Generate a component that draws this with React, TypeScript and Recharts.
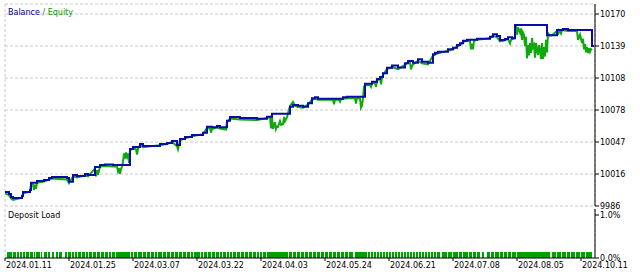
import React from "react";
import { Area, AreaChart, CartesianGrid, Line, LineChart, XAxis, YAxis } from "recharts";

// x axis is the tester's sequence index (0..590), not calendar time
const balancePts: [number, number][] = [
  [0, 9999.0], [4, 9997.1], [6, 9994.2], [8, 9993.3], [17, 9995.2], [18, 9999.0], [25, 10000.9],
  [26, 10008.0], [32, 10009.6], [39, 10010.5], [44, 10012.5], [47, 10013.4], [62, 10012.5],
  [64, 10008.9], [68, 10015.3], [72, 10014.4], [80, 10016.3], [83, 10015.3], [90, 10023.0],
  [95, 10024.9], [100, 10025.4], [108, 10024.9], [125, 10040.3], [128, 10042.2], [135, 10045.1],
  [138, 10043.2], [155, 10045.1], [162, 10046.0], [167, 10047.9], [172, 10044.1], [175, 10049.9],
  [180, 10051.8], [187, 10053.7], [198, 10055.9], [202, 10061.7], [207, 10061.1], [212, 10062.3],
  [215, 10061.1], [222, 10067.4], [225, 10071.0], [235, 10070.0], [252, 10069.4], [262, 10071.2],
  [267, 10074.2], [285, 10080.9], [288, 10082.5], [293, 10081.8], [298, 10080.9], [303, 10084.1],
  [307, 10088.9], [310, 10089.9], [313, 10088.5], [338, 10089.9], [342, 10090.5], [360, 10102.9],
  [367, 10104.9], [372, 10107.4], [375, 10109.4], [378, 10112.9], [382, 10118.3], [387, 10120.5],
  [393, 10118.5], [400, 10122.5], [403, 10124.7], [408, 10123.1], [413, 10126.3], [417, 10124.0],
  [423, 10123.1], [428, 10131.1], [430, 10132.7], [433, 10133.6], [443, 10135.9], [448, 10137.5],
  [452, 10140.1], [455, 10141.7], [458, 10144.2], [462, 10145.1], [472, 10146.1], [485, 10148.0],
  [488, 10150.3], [492, 10148.7], [495, 10144.9], [500, 10145.8], [503, 10147.5], [507, 10146.5],
  [510, 10159.3], [542, 10149.4], [552, 10154.5], [558, 10155.4], [563, 10154.5], [587, 10139.1],
  [589, 10139.1],
];

const equityPts: [number, number][] = [
  [0, 9998.0], [4, 9996.0], [6, 9993.0], [8, 9991.5], [17, 9993.5], [18, 9997.5], [25, 9999.5],
  [26, 10006.5], [28, 10006.5], [29, 10001.0], [30, 10006.0], [31, 10002.0], [32, 10008.0],
  [39, 10009.0], [44, 10011.0], [47, 10012.0], [62, 10011.0], [64, 10007.5], [68, 10014.0],
  [72, 10013.0], [80, 10015.0], [83, 10014.0], [90, 10021.5], [91, 10014.0], [92, 10020.0],
  [93, 10015.5], [95, 10023.5], [100, 10024.0], [108, 10023.5], [112, 10023.5], [113, 10019.0],
  [114, 10022.0], [115, 10016.5], [116, 10021.0], [117, 10023.5], [118, 10028.0], [119, 10036.0],
  [120, 10031.0], [121, 10037.0], [122, 10033.0], [123, 10036.0], [124, 10027.0], [125, 10039.0],
  [128, 10041.0], [131, 10040.0], [132, 10035.0], [133, 10040.5], [135, 10044.0], [138, 10042.0],
  [155, 10044.0], [162, 10045.0], [167, 10047.0], [172, 10043.0], [173, 10040.0], [175, 10048.5],
  [180, 10050.5], [187, 10052.5], [198, 10054.5], [202, 10060.5], [205, 10060.0], [206, 10056.0],
  [207, 10059.5], [212, 10061.0], [215, 10060.0], [221, 10059.0], [222, 10066.0], [225, 10069.5],
  [235, 10068.5], [252, 10068.0], [262, 10070.0], [265, 10071.0], [266, 10060.0], [267, 10072.0],
  [268, 10059.5], [270, 10066.0], [271, 10059.5], [272, 10062.0], [273, 10061.7], [275, 10067.0],
  [276, 10063.5], [278, 10064.0], [279, 10071.0], [280, 10067.0], [282, 10070.5], [283, 10074.5],
  [284, 10078.0], [285, 10081.5], [286, 10083.0], [288, 10085.5], [290, 10081.5], [293, 10080.5],
  [298, 10080.0], [303, 10083.0], [307, 10087.5], [310, 10088.5], [313, 10087.5], [328, 10087.5],
  [329, 10083.2], [330, 10087.5], [334, 10087.5], [335, 10085.7], [336, 10088.0], [338, 10088.5],
  [342, 10089.0], [350, 10089.0], [351, 10084.0], [352, 10089.0], [355, 10089.0], [356, 10080.0],
  [357, 10082.0], [358, 10089.0], [359, 10100.0], [360, 10101.5], [365, 10101.5], [366, 10100.0],
  [367, 10103.5], [370, 10103.5], [371, 10100.0], [372, 10106.0], [375, 10108.0], [376, 10102.3],
  [377, 10108.0], [378, 10111.5], [382, 10117.0], [387, 10119.0], [393, 10117.0], [400, 10121.0],
  [403, 10123.5], [405, 10123.5], [406, 10116.7], [407, 10120.0], [408, 10121.5], [413, 10125.0],
  [417, 10122.5], [423, 10121.5], [428, 10130.0], [430, 10131.0], [433, 10132.0], [443, 10134.5],
  [448, 10136.0], [452, 10138.5], [455, 10140.0], [458, 10143.0], [462, 10144.0], [465, 10144.0],
  [466, 10135.9], [467, 10141.0], [468, 10136.0], [469, 10144.0], [472, 10145.0], [485, 10146.5],
  [488, 10149.0], [492, 10147.5], [495, 10143.5], [500, 10144.5], [503, 10146.0], [505, 10141.7],
  [506, 10145.0], [507, 10145.5], [508, 10146.0], [510, 10147.0], [511, 10159.0], [512, 10150.0],
  [513, 10157.0], [515, 10152.0], [516, 10156.0], [517, 10145.0], [518, 10152.0], [519, 10150.0],
  [520, 10139.0], [521, 10148.0], [522, 10127.3], [523, 10140.0], [524, 10130.0], [525, 10142.0],
  [526, 10132.4], [527, 10146.8], [528, 10138.0], [529, 10140.0], [530, 10128.0], [531, 10142.0],
  [532, 10135.0], [533, 10130.5], [534, 10140.0], [535, 10135.0], [536, 10126.6], [537, 10142.0],
  [538, 10126.6], [539, 10138.0], [540, 10129.0], [541, 10145.0], [542, 10133.0], [543, 10151.6],
  [545, 10149.0], [547, 10149.5], [552, 10153.5], [553, 10150.0], [554, 10154.0], [556, 10151.0],
  [557, 10154.5], [563, 10153.5], [572, 10153.5], [573, 10145.0], [575, 10150.0], [577, 10142.0],
  [578, 10146.0], [579, 10136.0], [580, 10141.0], [581, 10133.0], [582, 10138.0], [583, 10132.4],
  [584, 10137.0], [585, 10133.5], [586, 10136.0], [587, 10135.0],
];

// deposit load: stretches where positions were open, all at the same small level
const loadLevel = 0.14;
const loadRuns: [number, number][] = [
  [2, 7], [8, 11], [12, 14], [15, 17], [18, 20], [21, 24], [25, 28], [29, 30], [31, 35], [36, 37],
  [39, 42], [43, 45], [47, 49], [51, 53], [54, 57], [60, 62], [63, 66], [67, 69], [70, 72], [73, 76],
  [77, 80], [81, 83], [84, 87], [88, 91], [92, 95], [96, 99], [100, 103], [104, 106], [107, 110],
  [111, 125], [126, 128], [129, 132], [133, 137], [138, 141], [142, 145], [146, 149], [150, 152],
  [153, 157], [158, 161], [162, 165], [166, 169], [170, 173], [174, 177], [178, 181], [182, 185],
  [186, 188], [189, 195], [196, 198], [199, 202], [203, 206], [207, 210], [211, 214], [215, 217],
  [218, 221], [222, 224], [225, 227], [228, 231], [232, 235], [236, 239], [240, 243], [244, 247],
  [248, 251], [252, 254], [255, 257], [258, 261], [262, 283], [284, 287], [288, 291], [292, 295],
  [296, 299], [300, 303], [304, 307], [308, 311], [312, 315], [316, 319], [320, 323], [324, 327],
  [328, 331], [332, 335], [336, 339], [340, 343], [344, 348], [350, 362], [363, 365], [366, 368],
  [369, 371], [372, 374], [375, 377], [378, 380], [381, 383], [384, 386], [387, 389], [390, 392],
  [393, 395], [396, 398], [399, 401], [402, 404], [405, 407], [408, 410], [411, 413], [414, 416],
  [417, 419], [420, 422], [423, 425], [426, 428], [429, 431], [432, 435], [437, 442], [443, 447],
  [448, 453], [454, 457], [458, 463], [464, 467], [468, 471], [472, 475], [477, 479], [482, 485],
  [486, 489], [490, 494], [495, 498], [499, 502], [503, 506], [507, 511], [512, 545], [547, 551],
  [552, 556], [557, 561], [562, 565], [566, 570], [571, 575], [576, 580], [581, 587],
];

const gridX = [32, 64, 96, 128, 160, 192, 224, 256, 288, 320, 352, 384, 416, 448, 480, 512, 544, 576];
const dateTicks = [0, 64, 128, 192, 256, 320, 384, 448, 512, 576];
const dateLabels = [
  "2024.01.11", "2024.01.25", "2024.03.07", "2024.03.22", "2024.04.03",
  "2024.05.24", "2024.06.21", "2024.07.08", "2024.08.05", "2024.10.11",
];
const valueTicks = [9985.6, 10016.3, 10047.0, 10077.7, 10108.4, 10139.1, 10169.8];
const loadTicks = [0, 1];

const balanceData = balancePts.map(([x, v]) => ({ x, v }));
const equityData = equityPts.map(([x, v]) => ({ x, v }));
const loadData = loadRuns.flatMap(([s, e]) => [
  { x: s, load: loadLevel },
  { x: e, load: 0 },
]);

const FONT = "DejaVu Sans";
const BLUE = "#0b0ba8";
const GREEN = "#0fa80f";
const tickStyle = { fontSize: 8, fill: "#000", fontFamily: FONT };

function DateTick(props: any) {
  const { x, y, payload } = props;
  const label = dateLabels[dateTicks.indexOf(payload.value)];
  return (
    <text x={x + 1} y={y} dy="0.71em" fontSize={8} fontFamily={FONT} fill="#000" textAnchor="start">
      {label}
    </text>
  );
}

export default function App() {
  return (
    <div style={{ position: "relative", width: 640, height: 275, background: "#fff", fontFamily: FONT }}>
      <style>{"body{margin:0}"}</style>
      <div style={{ width: 640, height: 209, overflow: "hidden" }}>
        <LineChart width={640} height={209} margin={{ top: 4, right: 0, left: 5, bottom: 3 }}>
          <CartesianGrid stroke="#c8c8c8" strokeDasharray="3 2" />
          <XAxis
            type="number"
            dataKey="x"
            orientation="top"
            domain={[0, 590]}
            ticks={gridX}
            allowDataOverflow
            height={0}
            tick={false}
            tickLine={false}
            axisLine={{ stroke: "#000" }}
          />
          <XAxis
            xAxisId="b"
            type="number"
            dataKey="x"
            domain={[0, 590]}
            height={0}
            tick={false}
            tickLine={false}
            axisLine={{ stroke: "#000" }}
          />
          <YAxis
            orientation="right"
            type="number"
            domain={[9985.6, 10179.4]}
            ticks={valueTicks}
            interval={0}
            allowDataOverflow
            width={45}
            tickSize={4}
            tickMargin={1}
            tick={tickStyle}
            tickLine={{ stroke: "#000" }}
            axisLine={{ stroke: "#000" }}
            tickFormatter={(v: number) => String(Math.round(v))}
          />
          <YAxis
            yAxisId="l"
            orientation="left"
            type="number"
            domain={[9985.6, 10179.4]}
            width={0}
            tick={false}
            tickLine={false}
            axisLine={{ stroke: "#000" }}
          />
          <Line
            data={equityData}
            dataKey="v"
            type="linear"
            stroke={GREEN}
            strokeWidth={2}
            dot={false}
            activeDot={false}
            isAnimationActive={false}
          />
          <Line
            data={balanceData}
            dataKey="v"
            type="stepAfter"
            stroke={BLUE}
            strokeWidth={2}
            dot={false}
            activeDot={false}
            isAnimationActive={false}
          />
        </LineChart>
      </div>
      <div style={{ width: 640, height: 66 }}>
        <AreaChart width={640} height={66} data={loadData} margin={{ top: 0, right: 0, left: 5, bottom: 0 }}>
          <CartesianGrid stroke="#c8c8c8" strokeDasharray="3 2" horizontal={false} />
          <XAxis
            type="number"
            dataKey="x"
            orientation="top"
            domain={[0, 590]}
            ticks={gridX}
            height={0}
            tick={false}
            tickLine={false}
            axisLine={{ stroke: "#000" }}
          />
          <XAxis
            xAxisId="b"
            type="number"
            dataKey="x"
            domain={[0, 590]}
            ticks={dateTicks}
            interval={0}
            height={17}
            tickSize={3}
            tickMargin={1}
            tick={<DateTick />}
            tickLine={{ stroke: "#000" }}
            axisLine={{ stroke: "#000" }}
          />
          <YAxis
            orientation="right"
            type="number"
            domain={[0, 1.14]}
            ticks={loadTicks}
            interval={0}
            width={45}
            tickSize={4}
            tickMargin={1}
            tick={tickStyle}
            tickLine={{ stroke: "#000" }}
            axisLine={{ stroke: "#000" }}
            tickFormatter={(v: number) => v.toFixed(1) + "%"}
          />
          <YAxis
            yAxisId="l"
            orientation="left"
            type="number"
            domain={[0, 1.14]}
            width={0}
            tick={false}
            tickLine={false}
            axisLine={{ stroke: "#000" }}
          />
          <Area
            dataKey="load"
            type="stepAfter"
            stroke="none"
            fill="#00a000"
            fillOpacity={1}
            isAnimationActive={false}
          />
        </AreaChart>
      </div>
      <div style={{ position: "absolute", left: 8, top: 8, fontSize: 8, lineHeight: "10px", pointerEvents: "none" }}>
        <span style={{ color: "#00008b" }}>Balance</span>
        <span style={{ color: "#555" }}> / </span>
        <span style={{ color: "#00a000" }}>Equity</span>
      </div>
      <div style={{ position: "absolute", left: 8, top: 211, fontSize: 8, lineHeight: "10px", color: "#000", pointerEvents: "none" }}>
        Deposit Load
      </div>
    </div>
  );
}
